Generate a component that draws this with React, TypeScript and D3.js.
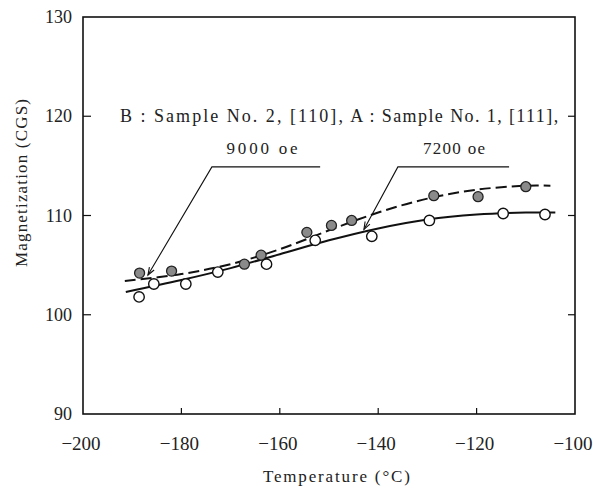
import React from 'react';
import * as d3 from 'd3';

// sample B (9000 oe), filled points, dashed curve
const tempB = [-188.5, -182.0, -167.2, -163.8, -154.5, -149.5, -145.4, -128.7, -119.7, -110.0];
const magB = [104.2, 104.4, 105.1, 106.0, 108.3, 109.0, 109.5, 112.0, 111.9, 112.9];
// sample A (7200 oe), open points, solid curve
const tempA = [-188.6, -185.6, -179.1, -172.6, -162.7, -152.8, -141.3, -129.6, -114.6, -106.1];
const magA = [101.8, 103.1, 103.1, 104.3, 105.1, 107.5, 107.9, 109.5, 110.2, 110.1];

// hand drawn fit curves
const curveTempB = [-191.5, -180, -170, -160, -150, -140, -130, -120, -110, -105];
const curveMagB = [103.4, 104.1, 105.1, 106.6, 108.5, 110.3, 111.7, 112.6, 113.0, 113.0];
const curveTempA = [-191.3, -180, -170, -160, -150, -140, -130, -120, -110, -104];
const curveMagA = [102.3, 103.5, 104.7, 106.1, 107.5, 108.7, 109.6, 110.1, 110.3, 110.3];

const xTicks = [-200, -180, -160, -140, -120, -100];
const yTicks = [90, 100, 110, 120, 130];

// leader lines for the annotations [temp, mag]
const leaderB: [number, number][] = [[-186.8, 104.0], [-173.8, 114.9], [-151.8, 114.9]];
const leaderA: [number, number][] = [[-142.9, 108.6], [-136.0, 114.9], [-113.4, 114.9]];

export default function App() {
  const W = 593, H = 491;
  const m = { left: 83, right: 18, top: 17, bottom: 77 };
  const x = d3.scaleLinear().domain([-200, -100]).range([m.left, W - m.right]);
  const y = d3.scaleLinear().domain([90, 130]).range([H - m.bottom, m.top]);
  const line = d3.line<[number, number]>().x(d => x(d[0])).y(d => y(d[1])).curve(d3.curveCatmullRom.alpha(0.5));
  const straight = d3.line<[number, number]>().x(d => x(d[0])).y(d => y(d[1]));
  const font = '"Liberation Serif", "DejaVu Serif", serif';

  const cb = curveTempB.map((t, i) => [t, curveMagB[i]] as [number, number]);
  const ca = curveTempA.map((t, i) => [t, curveMagA[i]] as [number, number]);

  const arrowHead = (pts: [number, number][]) => {
    const [tx, ty] = [x(pts[0][0]), y(pts[0][1])];
    const [ux, uy] = [x(pts[1][0]), y(pts[1][1])];
    const ang = Math.atan2(uy - ty, ux - tx);
    const len = 8, spread = 0.35;
    return `M${tx + len * Math.cos(ang - spread)},${ty + len * Math.sin(ang - spread)}L${tx},${ty}L${tx + len * Math.cos(ang + spread)},${ty + len * Math.sin(ang + spread)}`;
  };

  return (
    <svg width={W} height={H} style={{ position: 'absolute', left: 0, top: 0, background: '#fff' }} fontFamily={font}>
      {/* frame */}
      <rect x={x(-200)} y={y(130)} width={x(-100) - x(-200)} height={y(90) - y(130)} fill="none" stroke="#111" strokeWidth={1.6} />
      {/* ticks */}
      {xTicks.slice(1, -1).map(t => (
        <line key={'xt' + t} x1={x(t)} x2={x(t)} y1={y(90)} y2={y(90) - 6} stroke="#111" strokeWidth={1.2} />
      ))}
      {yTicks.slice(1, -1).map(t => (
        <g key={'yt' + t}>
          <line x1={x(-200)} x2={x(-200) + 8} y1={y(t)} y2={y(t)} stroke="#111" strokeWidth={1.2} />
          <line x1={x(-100)} x2={x(-100) - 7} y1={y(t)} y2={y(t)} stroke="#111" strokeWidth={1.2} />
        </g>
      ))}
      {xTicks.map(t => (
        <text key={'xl' + t} x={x(t) - 2} y={y(90) + 36} textAnchor="middle" fontSize={19} fill="#222">
          {'\u2212' + Math.abs(t)}
        </text>
      ))}
      {yTicks.map(t => (
        <text key={'yl' + t} x={x(-200) - 11} y={y(t) + 6} textAnchor="end" fontSize={18} fill="#222">{t}</text>
      ))}
      <text x={x(-148.5)} y={482} textAnchor="middle" fontSize={17} fill="#222" textLength={147} lengthAdjust="spacing">Temperature (°C)</text>
      <text transform={`translate(27,183) rotate(-90)`} textAnchor="middle" fontSize={17} fill="#222" textLength={168} lengthAdjust="spacing">Magnetization (CGS)</text>

      {/* curves */}
      <path d={line(cb) || ''} fill="none" stroke="#111" strokeWidth={2} strokeDasharray="11,5" />
      <path d={line(ca) || ''} fill="none" stroke="#111" strokeWidth={2} />

      {/* points */}
      {tempB.map((t, i) => (
        <circle key={'b' + i} cx={x(t)} cy={y(magB[i])} r={5} fill="#8a8a8a" stroke="#222" strokeWidth={1.3} />
      ))}
      {tempA.map((t, i) => (
        <circle key={'a' + i} cx={x(t)} cy={y(magA[i])} r={5.2} fill="#fff" stroke="#111" strokeWidth={1.4} />
      ))}

      {/* annotations */}
      <path d={straight(leaderB) || ''} fill="none" stroke="#111" strokeWidth={1.1} />
      <path d={arrowHead(leaderB)} fill="none" stroke="#111" strokeWidth={1.1} />
      <path d={straight(leaderA) || ''} fill="none" stroke="#111" strokeWidth={1.1} />
      <path d={arrowHead(leaderA)} fill="none" stroke="#111" strokeWidth={1.1} />
      <text x={x(-192.5)} y={y(119.4)} fontSize={18} fill="#222" textLength={223} lengthAdjust="spacing">B : Sample No. 2, [110],</text>
      <text x={x(-145.7)} y={y(119.4)} fontSize={18} fill="#222" textLength={208} lengthAdjust="spacing">A : Sample No. 1, [111],</text>
      <text x={x(-163.6)} y={y(116.2)} textAnchor="middle" fontSize={17} fill="#222" textLength={71} lengthAdjust="spacing">9000  oe</text>
      <text x={x(-124.6)} y={y(116.2)} textAnchor="middle" fontSize={17} fill="#222" textLength={62} lengthAdjust="spacing">7200  oe</text>
    </svg>
  );
}
